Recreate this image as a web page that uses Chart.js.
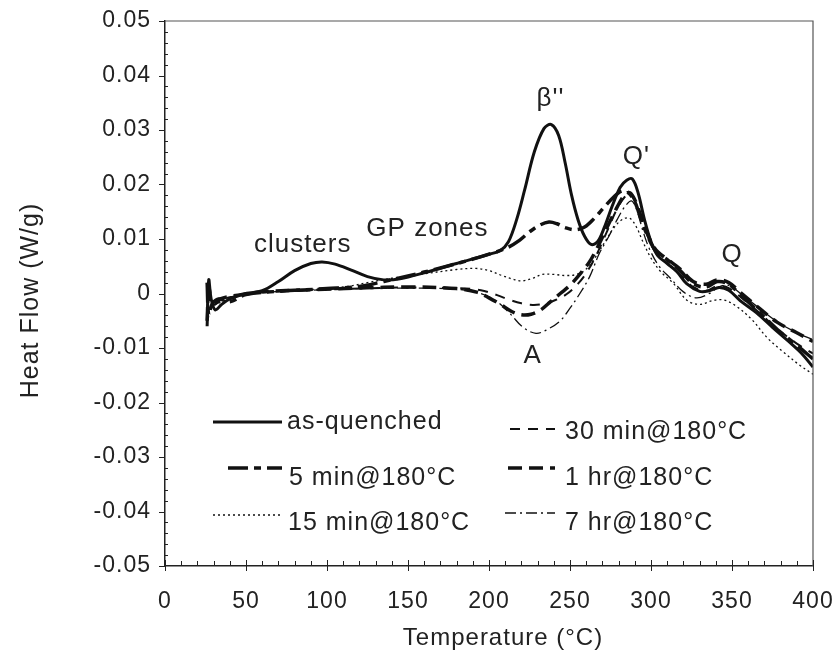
<!DOCTYPE html>
<html>
<head>
<meta charset="utf-8">
<script src="https://cdn.jsdelivr.net/npm/chart.js@4/dist/chart.umd.min.js"></script>
<style>
html,body{margin:0;padding:0;background:#fff;}
#wrap{width:839px;height:660px;position:relative;}
</style>
</head>
<body>
<div id="wrap"><canvas id="c" width="839" height="660"></canvas></div>
<script>
// ---- data (Temperature °C, Heat Flow W/g) ----
const seriesLabels = ["as-quenched","5 min@180°C","15 min@180°C","30 min@180°C","1 hr@180°C","7 hr@180°C"];
const xTitle = "Temperature (°C)";
const yTitle = "Heat Flow (W/g)";

const asQuenchedT = [26,27,28.5,31,35,40,50,60,70,80,90,97,105,115,125,135,145,160,180,200,207,212,217,222,228,234,238.5,243,247,251,255,259,263,267,271,276,281,285,288.5,292,296,300,304,310,316,322,330,336,342,348,355,365,375,385,393,400];
const asQuenchedV = [-0.006,0.0025,-0.001,-0.003,-0.002,-0.001,0.0,0.0005,0.0022,0.0042,0.0055,0.0058,0.0054,0.0043,0.0031,0.0025,0.0027,0.0038,0.0055,0.0072,0.0079,0.0095,0.0135,0.019,0.026,0.0303,0.031,0.029,0.024,0.018,0.0135,0.0105,0.009,0.0095,0.012,0.016,0.0195,0.0208,0.021,0.0185,0.0135,0.0095,0.007,0.0055,0.004,0.0018,0.0004,0.0005,0.0011,0.0006,-0.0013,-0.0035,-0.0062,-0.0088,-0.011,-0.0135];

const min5T = [26,27,29,33,40,50,70,100,120,135,150,170,190,205,212,219,225,231,237,242,247,253,259,265,271,277,282,286,290,294,298,303,310,318,326,334,341,348,356,366,378,390,400];
const min5V = [0.002,-0.004,-0.002,-0.001,-0.0015,-0.0002,0.0004,0.0009,0.0013,0.0022,0.0032,0.0047,0.0063,0.0077,0.0085,0.0098,0.0113,0.0125,0.0131,0.0128,0.0121,0.0117,0.0122,0.0138,0.0158,0.0177,0.0188,0.0185,0.0168,0.0135,0.0105,0.0078,0.0062,0.0042,0.0018,0.0012,0.0022,0.0017,-0.0005,-0.0032,-0.0066,-0.0095,-0.012];

const min15T = [26,27,30,35,45,60,80,100,115,125,140,160,180,192,200,208,215,220,227,233,240,247,254,260,266,272,278,283,287,291,295,300,306,314,322,330,338,345,352,362,372,382,392,400];
const min15V = [-0.004,0.001,-0.002,-0.0015,-0.0005,0.0003,0.0006,0.0009,0.0014,0.002,0.0028,0.0036,0.0044,0.0046,0.0042,0.0033,0.0026,0.0023,0.0028,0.0035,0.0035,0.0033,0.0035,0.0045,0.0068,0.0097,0.0124,0.0137,0.0138,0.0122,0.0095,0.0065,0.004,0.0018,-0.0012,-0.002,-0.0013,-0.0012,-0.0022,-0.0047,-0.0082,-0.0108,-0.0132,-0.0148];

const min30T = [26,27.5,30,36,45,60,90,120,150,180,195,205,213,220,227,234,241,248,255,261,267,273,279,284,287,290,294,298,303,310,318,326,334,341,348,356,366,378,390,400];
const min30V = [-0.003,0.001,-0.002,-0.001,-0.0005,0.0002,0.0006,0.0009,0.0011,0.001,0.0006,-0.0003,-0.0012,-0.0018,-0.0021,-0.0019,-0.0012,-0.0001,0.0018,0.0042,0.0075,0.0115,0.0155,0.0178,0.0182,0.017,0.0138,0.0105,0.0075,0.0055,0.0035,0.0012,0.0005,0.0014,0.001,-0.0008,-0.0033,-0.0065,-0.0092,-0.011];

const hr1T = [26,27,29,34,45,60,90,120,150,180,193,200,207,214,220,226,232,238,244,250,256,262,267,273,279,284,287,290,294,298,303,310,318,326,334,341,348,356,366,378,390,400];
const hr1V = [-0.005,0.0,-0.002,-0.001,-0.0003,0.0003,0.0007,0.001,0.0012,0.0009,0.0002,-0.0008,-0.002,-0.0033,-0.0039,-0.0038,-0.003,-0.0015,0.0,0.0015,0.0035,0.0058,0.0085,0.0122,0.0158,0.0182,0.0185,0.0172,0.014,0.0108,0.008,0.0063,0.0045,0.0022,0.0017,0.0025,0.002,0.0,-0.0025,-0.0053,-0.0072,-0.0088];

const hr7T = [26,27,30,36,45,60,90,120,150,180,195,205,213,221,229,236,244,250,255,262,268,274,279,284,288,291,295,299,305,312,320,328,336,342,348,356,366,378,390,400];
const hr7V = [-0.004,0.001,-0.002,-0.001,-0.0004,0.0002,0.0006,0.0009,0.001,0.0008,0.0,-0.0015,-0.0037,-0.0062,-0.0073,-0.0066,-0.005,-0.0027,-0.0005,0.003,0.0073,0.0105,0.0135,0.016,0.017,0.0155,0.0115,0.0082,0.005,0.0028,0.0003,-0.0008,0.0,0.0012,0.0015,-0.0002,-0.0025,-0.0052,-0.0072,-0.0085];

const xTickValues = [0,50,100,150,200,250,300,350,400];
const yTickValues = [0.05,0.04,0.03,0.02,0.01,0,-0.01,-0.02,-0.03,-0.04,-0.05];

const annotationTexts = ["clusters","GP zones","β''","Q'","Q","A"];
const annotationT = [85,162,238,291,350,227];
const annotationV = [0.0089,0.0119,0.0358,0.0251,0.0071,-0.0115];

// ---- build ----
function pts(t,v){return t.map((x,i)=>({x:x,y:v[i]}));}
const styles = [
  {w:3, dash:[]},
  {w:3.5, dash:[20,6,7,6]},
  {w:1.3, dash:[2,3]},
  {w:2, dash:[10,8]},
  {w:3.5, dash:[14,7]},
  {w:1.3, dash:[11,4,2,4]}
];
const allT=[asQuenchedT,min5T,min15T,min30T,hr1T,hr7T];
const allV=[asQuenchedV,min5V,min15V,min30V,hr1V,hr7V];
const datasets = seriesLabels.map((lab,i)=>({
  label:lab,
  data:pts(allT[i],allV[i]),
  showLine:true,
  borderColor:'#111',
  backgroundColor:'#111',
  borderWidth:styles[i].w,
  borderDash:styles[i].dash,
  pointRadius:0,
  tension:0.35,
  fill:false
}));

const FONT = '"Liberation Sans", Arial, sans-serif';

const spacing = {
  id:'spacing',
  beforeLayout(chart){ try{chart.ctx.letterSpacing='1px';}catch(e){} },
  beforeDraw(chart){ try{chart.ctx.letterSpacing='1px';}catch(e){} }
};

const decor = {
  id:'decor',
  afterDraw(chart){
    const ctx=chart.ctx, a=chart.chartArea, xs=chart.scales.x, ys=chart.scales.y;
    ctx.save();
    // frame top & right
    ctx.strokeStyle='#555'; ctx.lineWidth=1.2;
    ctx.beginPath();
    ctx.moveTo(a.left,a.top); ctx.lineTo(a.right,a.top); ctx.lineTo(a.right,a.bottom);
    ctx.stroke();
    // x ticks
    ctx.strokeStyle='#222'; ctx.lineWidth=1;
    for(let t=0;t<=400;t+=10){
      const px=Math.round(xs.getPixelForValue(t))+0.5;
      ctx.beginPath();
      if(t%50===0){ctx.moveTo(px,a.bottom+5);ctx.lineTo(px,a.bottom-6);}
      else {ctx.moveTo(px,a.bottom);ctx.lineTo(px,a.bottom-5);}
      ctx.stroke();
    }
    // y ticks
    for(let k=-25;k<=25;k++){
      const v=k*0.002;
      const py=Math.round(ys.getPixelForValue(v))+0.5;
      ctx.beginPath();
      if(k%5===0){ctx.moveTo(a.left-6,py);ctx.lineTo(a.left,py);}
      else {ctx.moveTo(a.left,py);ctx.lineTo(a.left+3,py);}
      ctx.stroke();
    }
    ctx.fillStyle='#222';
    // axis titles
    ctx.font='24px '+FONT; ctx.textAlign='center'; ctx.textBaseline='middle';
    ctx.fillText(xTitle, (a.left+a.right)/2+14, a.bottom+72);
    ctx.save();
    ctx.translate(31, (a.top+a.bottom)/2+7);
    ctx.rotate(-Math.PI/2);
    ctx.font='25px '+FONT;
    ctx.fillText(yTitle, 0, 0);
    ctx.restore();
    // annotations
    ctx.font='26px '+FONT; ctx.textAlign='center'; ctx.textBaseline='middle';
    annotationTexts.forEach((s,i)=>{
      ctx.fillText(s, xs.getPixelForValue(annotationT[i]), ys.getPixelForValue(annotationV[i]));
    });
    // legend
    const items=[
      {i:0, x1:a.left+48, x2:a.left+117, y:a.top+401, tx:a.left+122, ty:a.top+408},
      {i:3, x1:a.left+345, x2:a.left+390, y:a.top+408, tx:a.left+400, ty:a.top+418},
      {i:1, x1:a.left+63, x2:a.left+117, y:a.top+447, tx:a.left+124, ty:a.top+464},
      {i:4, x1:a.left+343, x2:a.left+390, y:a.top+447, tx:a.left+400, ty:a.top+464},
      {i:2, x1:a.left+48, x2:a.left+117, y:a.top+494, tx:a.left+123, ty:a.top+509},
      {i:5, x1:a.left+340, x2:a.left+390, y:a.top+492, tx:a.left+400, ty:a.top+509}
    ];
    ctx.textAlign='left'; ctx.textBaseline='alphabetic';
    ctx.font='25px '+FONT;
    items.forEach(it=>{
      const st=styles[it.i];
      ctx.strokeStyle='#111'; ctx.lineWidth=st.w; ctx.setLineDash(st.dash);
      ctx.beginPath(); ctx.moveTo(it.x1,it.y); ctx.lineTo(it.x2,it.y); ctx.stroke();
      ctx.setLineDash([]);
      ctx.fillStyle='#222';
      ctx.fillText(seriesLabels[it.i], it.tx, it.ty);
    });
    ctx.restore();
  }
};

new Chart(document.getElementById('c'),{
  type:'scatter',
  data:{datasets:datasets},
  options:{
    responsive:false,
    animation:false,
    layout:{padding:{left:0,top:21,right:26,bottom:0}},
    plugins:{legend:{display:false},tooltip:{enabled:false}},
    scales:{
      x:{
        type:'linear',min:0,max:400,
        afterBuildTicks:s=>{s.ticks=xTickValues.map(v=>({value:v}));},
        afterFit:s=>{s.height=94; s.paddingLeft=0; s.paddingRight=0;},
        grid:{display:false},
        border:{display:true,color:'#222',width:1.5},
        ticks:{color:'#222',font:{family:FONT,size:23},padding:14,maxRotation:0,autoSkip:false,
          callback:v=>String(v)},
        title:{display:false}
      },
      y:{
        type:'linear',min:-0.05,max:0.05,
        afterBuildTicks:s=>{s.ticks=yTickValues.map(v=>({value:v}));},
        afterFit:s=>{s.width=165; s.paddingTop=0; s.paddingBottom=0;},
        grid:{display:false},
        border:{display:true,color:'#222',width:1.5},
        ticks:{color:'#222',font:{family:FONT,size:23},padding:6,autoSkip:false,
          callback:v=>{const r=Math.round(v*100)/100; return r===0?'0':r.toFixed(2);}},
        title:{display:false}
      }
    }
  },
  plugins:[spacing,decor]
});
</script>
</body>
</html>
